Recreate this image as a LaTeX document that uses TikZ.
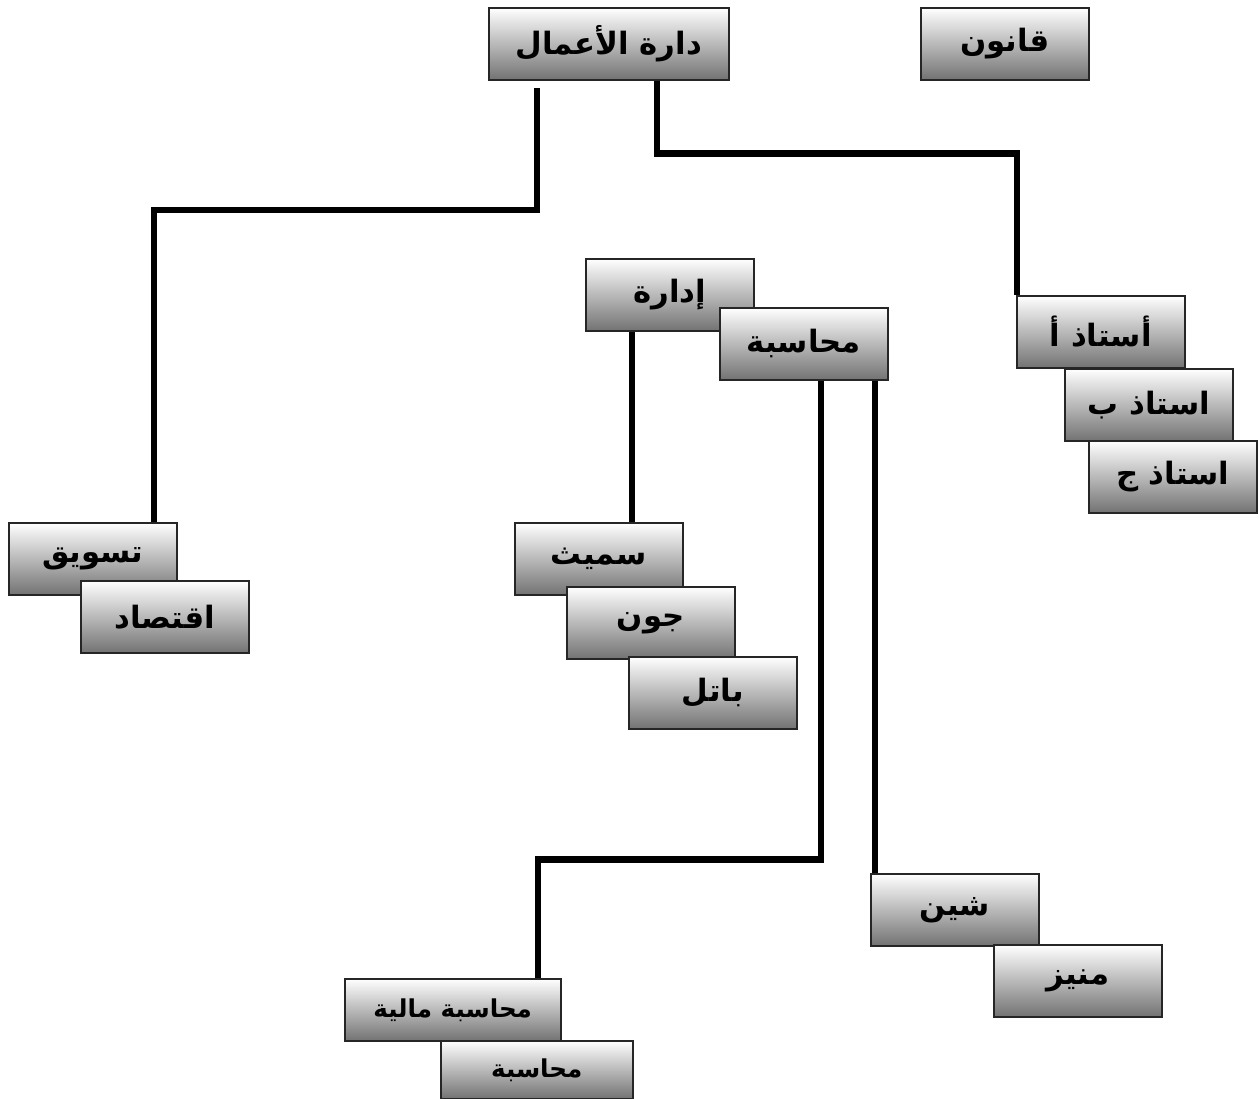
\documentclass[tikz,border=0pt]{standalone}
\usepackage{fontspec}
\TeXXeTstate=1
\newfontfamily\arabicfont[Script=Arabic]{DejaVu Sans}
\usetikzlibrary{positioning}

\newcommand{\ar}[1]{\beginR #1\endR}

\begin{document}
\begin{tikzpicture}[
  x=0.02cm, y=-0.02cm,
  box/.style={
    draw=black!85, line width=0.9pt, anchor=north west,
    top color=white, bottom color=black!55,
    minimum width=3.36cm, minimum height=1.44cm, inner sep=0pt,
    font=\arabicfont\bfseries\fontsize{17.5}{20}\selectfont
  },
  wire/.style={line width=3.6pt}
]
\useasboundingbox (0,0) rectangle (1259,1099);

% top row
\node[box, minimum width=4.8cm] (amal) at (488,7) {\ar{دارة الأعمال}};
\node[box] (qanun) at (920,7) {\ar{قانون}};

% middle
\node[box] (idara) at (585,258) {\ar{إدارة}};
\node[box] (muhasaba) at (719,307) {\ar{محاسبة}};

\node[box] (ustadhA) at (1016,295) {\ar{أستاذ أ}};
\node[box] (ustadhB) at (1064,368) {\ar{استاذ ب}};
\node[box] (ustadhC) at (1088,440) {\ar{استاذ ج}};

\node[box] (taswiq) at (8,522) {\ar{تسويق}};
\node[box] (iqtisad) at (80,580) {\ar{اقتصاد}};

\node[box] (smith) at (514,522) {\ar{سميث}};
\node[box] (john) at (566,586) {\ar{جون}};
\node[box] (battle) at (628,656) {\ar{باتل}};

% bottom
\node[box] (shin) at (870,873) {\ar{شين}};
\node[box] (muniz) at (993,944) {\ar{منيز}};

\node[box, minimum width=4.32cm, minimum height=1.24cm,
  font=\arabicfont\bfseries\fontsize{14}{16}\selectfont] (maliya) at (344,978) {\ar{محاسبة مالية}};
\node[box, minimum width=3.84cm, minimum height=1.16cm,
  font=\arabicfont\bfseries\fontsize{14}{16}\selectfont] (muhasaba2) at (440,1040) {\ar{محاسبة}};

% connectors
\coordinate (amalL) at (537,88);
\coordinate (amalR) at ([xshift=0.96cm]amal.south);
\coordinate (idaraS) at ([xshift=-0.75cm]idara.south);
\coordinate (muhL) at ([xshift=0.35cm]muhasaba.south);
\coordinate (muhR) at ([xshift=1.43cm]muhasaba.south);

\draw[wire] (amalL) -- ++(0,122) -| ([xshift=1.22cm]taswiq.north);
\draw[wire] (amalR) -- ++(0,73) -| ([xshift=0.02cm]ustadhA.north west);
\draw[wire] (idaraS) -- (idaraS |- smith.north);
\draw[wire] (muhL) -- ++(0,479) -| ([xshift=1.7cm]maliya.north);
\draw[wire] (muhR) -- (muhR |- shin.north);
\end{tikzpicture}
\end{document}
